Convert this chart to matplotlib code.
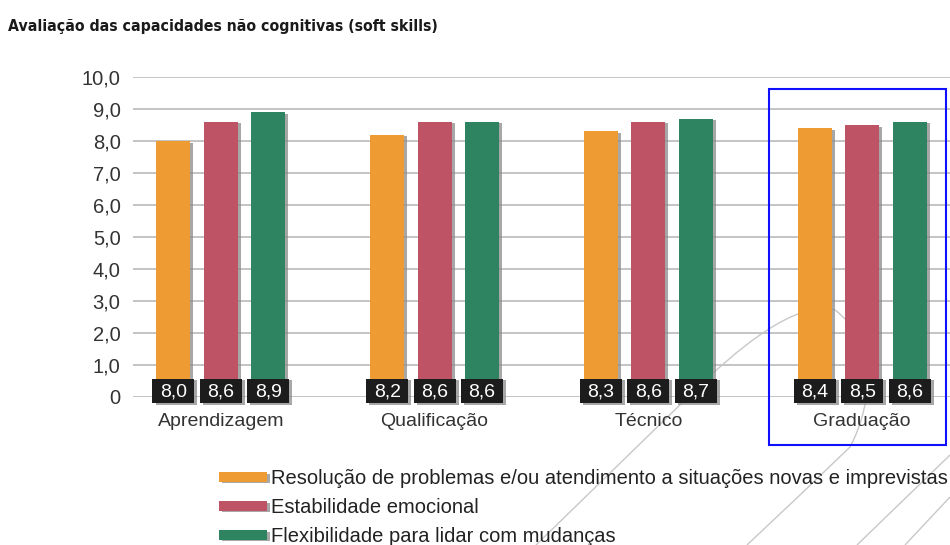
import matplotlib
matplotlib.use("Agg")
import matplotlib.pyplot as plt
import numpy as np
from matplotlib import font_manager
from matplotlib.patches import Rectangle, PathPatch
from matplotlib.path import Path
import matplotlib.patheffects as pe

# ---- data ----
title = "Avaliação das capacidades não cognitivas (soft skills)"
categories = ["Aprendizagem", "Qualificação", "Técnico", "Graduação"]
series_names = [
    "Resolução de problemas e/ou atendimento a situações novas e imprevistas",
    "Estabilidade emocional",
    "Flexibilidade para lidar com mudanças",
]
resolucao = [8.0, 8.2, 8.3, 8.4]
estabilidade = [8.6, 8.6, 8.6, 8.5]
flexibilidade = [8.9, 8.6, 8.7, 8.6]
y_ticks = [0, 1, 2, 3, 4, 5, 6, 7, 8, 9, 10]
y_tick_labels = ["0", "1,0", "2,0", "3,0", "4,0", "5,0", "6,0", "7,0", "8,0", "9,0", "10,0"]

colors = ["#EE9B34", "#BE5366", "#2E8460"]

available = {f.name for f in font_manager.fontManager.ttflist}
body_font = "Liberation Sans" if "Liberation Sans" in available else "DejaVu Sans"
plt.rcParams["font.family"] = [body_font, "DejaVu Sans"]

W, H = 950, 545
fig = plt.figure(figsize=(9.5, 5.45), dpi=100)
ax = fig.add_axes([133 / W, 1 - 397 / H, (950 - 133) / W, (397 - 77) / H])

x = np.arange(len(categories))
offset = 0.222
width = 0.159
series = [resolucao, estabilidade, flexibilidade]

shadow = [pe.SimplePatchShadow(offset=(2.2, -1.2), shadow_rgbFace="#8a8a8a", alpha=0.75), pe.Normal()]
for i, vals in enumerate(series):
    xs = x + (i - 1) * offset
    bars = ax.bar(xs, vals, width=width, color=colors[i], zorder=3, label=series_names[i])
    for b in bars:
        b.set_path_effects(shadow)
    for xi, v in zip(xs, vals):
        r = Rectangle((xi - 0.098, -0.2), 0.196, 0.77, facecolor="#1c1c1c", edgecolor="none",
                      zorder=5, clip_on=False)
        r.set_path_effects(shadow)
        ax.add_patch(r)
        ax.text(xi, 0.17, f"{v:.1f}".replace(".", ","), color="white", ha="center", va="center",
                fontsize=14, zorder=6, clip_on=False)

for xi, c in zip(x, categories):
    ax.text(xi, -0.78, c, ha="center", va="center", fontsize=14, color="#333333", clip_on=False)

ax.set_xlim(-0.411, 3.411)
ax.set_ylim(0, 10)
ax.set_yticks(y_ticks)
ax.set_yticklabels(y_tick_labels, fontsize=14.5, color="#333333")
ax.tick_params(axis="y", length=0, pad=9)
ax.set_xticks([])
ax.grid(axis="y", color="#c4c4c4", linewidth=1.4, zorder=0)
ax.set_axisbelow(True)
for s in ax.spines.values():
    s.set_visible(False)
ax.patch.set_alpha(0)

# title
fig.text(8 / W, 1 - 26 / H, title, fontsize=11.3, fontweight="bold",
         family=["DejaVu Sans"], stretch="condensed",
         color="#1a1a1a", ha="left", va="center")

# legend
handles, labels = ax.get_legend_handles_labels()
leg = fig.legend(handles, labels, loc="upper left", bbox_to_anchor=(219 / W, 1 - 469 / H),
                 frameon=False, fontsize=14.5, handlelength=2.4, handleheight=0.35,
                 handletextpad=0.2, labelspacing=0.5, borderaxespad=0, borderpad=0)
for t in leg.get_texts():
    t.set_color("#222222")

# highlight box around Graduação
fig.add_artist(Rectangle((769 / W, 1 - 445 / H), (946 - 769) / W, (445 - 89) / H,
                         transform=fig.transFigure, fill=False, edgecolor="#1010ff", linewidth=1.5, zorder=10))

# decorative background lines
def fp(p):
    return (p[0] / W, 1 - p[1] / H)

curve_verts = [(536, 545), (685, 400), (740, 345), (797, 300), (835, 310),
               (875, 340), (875, 400), (850, 447), (800, 495), (747, 545)]
curve_codes = [Path.MOVETO, Path.LINETO, Path.CURVE4, Path.CURVE4, Path.CURVE4,
               Path.CURVE4, Path.CURVE4, Path.CURVE4, Path.LINETO, Path.LINETO]
deco_paths = [
    Path([fp(p) for p in curve_verts], curve_codes),
    Path([fp((950, 455)), fp((857, 545))]),
    Path([fp((950, 497)), fp((905, 545))]),
]
for pth in deco_paths:
    fig.add_artist(PathPatch(pth, transform=fig.transFigure, fill=False, edgecolor="#c8c8c8",
                             linewidth=1.0, zorder=-1))

fig.savefig("out.png", dpi=100)
